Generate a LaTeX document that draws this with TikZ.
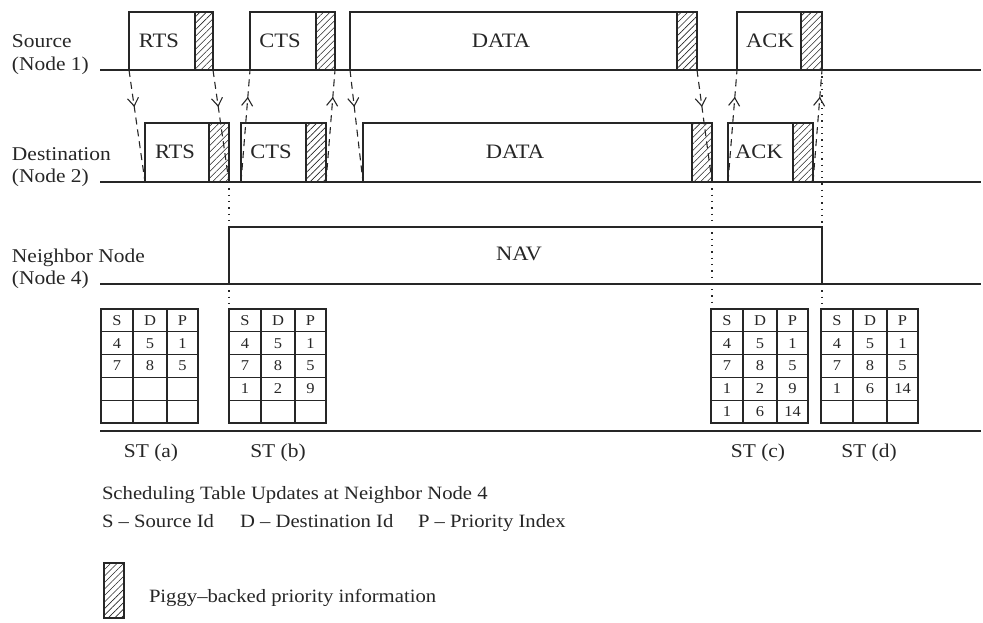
\documentclass[tikz,border=0pt]{standalone}
\usepackage{fontspec}
\setmainfont{Liberation Serif}[FakeStretch=1.1]
\usetikzlibrary{patterns.meta,arrows.meta,decorations.markings}
\definecolor{ink}{HTML}{262626}
\tikzset{
  wire/.style={draw=ink, line width=1.3pt},
  grid/.style={draw=ink, line width=1.2pt},
  frame/.style={draw=ink, line width=1.3pt, inner sep=0pt, outer sep=0pt, anchor=south west},
  hatch/.style={frame, pattern={Lines[angle=45,distance=4.6pt,line width=0.6pt]}, pattern color=ink},
  txt/.style={font=\fontsize{19.5}{23}\selectfont, text=ink, inner sep=0pt, outer sep=0pt},
  captxt/.style={font=\fontsize{18.8}{23}\selectfont, text=ink, inner sep=0pt, outer sep=0pt},
  boxtxt/.style={font=\fontsize{20.5}{24}\selectfont, text=ink, inner sep=0pt, outer sep=0pt},
  cell/.style={font=\fontsize{15}{17}\selectfont, text=ink, inner sep=0pt},
  sig/.style={draw=ink, line width=1.1pt, dash pattern=on 7pt off 5pt},
  sigdown/.style={sig, postaction={decorate}, decoration={markings, mark=at position 0.33 with {\arrow{Straight Barb[length=8pt,width=11pt,line width=1.1pt]}}}},
  sigup/.style={sig, postaction={decorate}, decoration={markings, mark=at position 0.76 with {\arrow{Straight Barb[length=8pt,width=11pt,line width=1.1pt]}}}},
  dots/.style={draw=ink, line width=1.3pt, dash pattern=on 1.3pt off 5pt},
}
\newcommand\sttable[3]{%
  \draw[grid] (#2,309) rectangle (#2+97,423);
  \draw[grid] (#2+32,309) -- (#2+32,423);
  \draw[grid] (#2+66,309) -- (#2+66,423);
  \foreach \r in {1,2,3,4} \draw[grid] (#2,{309+22.8*\r}) -- (#2+97,{309+22.8*\r});
  \foreach \v [count=\k from 0] in {#3} {%
    \pgfmathtruncatemacro\row{\k/3}%
    \pgfmathtruncatemacro\col{mod(\k,3)}%
    \pgfmathsetmacro\cx{{16,49,81.5}[\col]}%
    \pgfmathsetmacro\cy{309+22.8*(\row+0.5)}%
    \node[cell] (#1-\row-\col) at (#2+\cx,\cy) {\v};
  }%
}
\begin{document}
\begin{tikzpicture}[x=1pt,y=-1pt]
\useasboundingbox (0,0) rectangle (983,622);

% time lines
\coordinate (sl0) at (100,70);  \coordinate (sl1) at (981,70);
\coordinate (dl0) at (100,182); \coordinate (dl1) at (981,182);
\coordinate (nl0) at (100,284); \coordinate (nl1) at (981,284);
\coordinate (tl0) at (100,431); \coordinate (tl1) at (981,431);
\draw[wire] (sl0) -- (sl1);
\draw[wire] (dl0) -- (dl1);
\draw[wire] (nl0) -- (nl1);
\draw[wire] (tl0) -- (tl1);

% row labels
\node[txt, anchor=base west] (lsrc1) at (12,47) {Source};
\node[txt, anchor=base west] (lsrc2) at (12,70) {(Node 1)};
\node[txt, anchor=base west] (ldst1) at (12,160) {Destination};
\node[txt, anchor=base west] (ldst2) at (12,182) {(Node 2)};
\node[txt, anchor=base west] (lnb1) at (12,262) {Neighbor Node};
\node[txt, anchor=base west] (lnb2) at (12,284) {(Node 4)};

% source frames
\node[frame, minimum width=84pt, minimum height=58pt] (srts) at (129,70) {};
\node[hatch, minimum width=18pt, minimum height=58pt] (srtsh) at (195,70) {};
\node[frame, minimum width=85pt, minimum height=58pt] (scts) at (250,70) {};
\node[hatch, minimum width=19pt, minimum height=58pt] (sctsh) at (316,70) {};
\node[frame, minimum width=347pt, minimum height=58pt] (sdata) at (350,70) {};
\node[hatch, minimum width=20pt, minimum height=58pt] (sdatah) at (677,70) {};
\node[frame, minimum width=85pt, minimum height=58pt] (sack) at (737,70) {};
\node[hatch, minimum width=21pt, minimum height=58pt] (sackh) at (801,70) {};
\node[boxtxt] (tsrts) at (159,41) {RTS};
\node[boxtxt] (tscts) at (280,41) {CTS};
\node[boxtxt] (tsdata) at (501,41) {DATA};
\node[boxtxt] (tsack) at (770,41) {ACK};

% destination frames
\node[frame, minimum width=84pt, minimum height=59pt] (drts) at (145,182) {};
\node[hatch, minimum width=20pt, minimum height=59pt] (drtsh) at (209,182) {};
\node[frame, minimum width=85pt, minimum height=59pt] (dcts) at (241,182) {};
\node[hatch, minimum width=20pt, minimum height=59pt] (dctsh) at (306,182) {};
\node[frame, minimum width=349pt, minimum height=59pt] (ddata) at (363,182) {};
\node[hatch, minimum width=20pt, minimum height=59pt] (ddatah) at (692,182) {};
\node[frame, minimum width=85pt, minimum height=59pt] (dack) at (728,182) {};
\node[hatch, minimum width=20pt, minimum height=59pt] (dackh) at (793,182) {};
\node[boxtxt] (tdrts) at (175,152) {RTS};
\node[boxtxt] (tdcts) at (271,152) {CTS};
\node[boxtxt] (tddata) at (515,152) {DATA};
\node[boxtxt] (tdack) at (759,152) {ACK};

% NAV
\node[frame, minimum width=593pt, minimum height=57pt] (nav) at (229,284) {};
\node[boxtxt] (tnav) at (519,254) {NAV};

% signals
\draw[sigdown] (srts.south west) -- (drts.south west);
\draw[sigdown] (srts.south east) -- (drts.south east);
\draw[sigup] (dcts.south west) -- (scts.south west);
\draw[sigup] (dcts.south east) -- (scts.south east);
\draw[sigdown] (sdata.south west) -- (ddata.south west);
\draw[sigdown] (sdata.south east) -- (ddata.south east);
\draw[sigup] (dack.south west) -- (sack.south west);
\draw[sigup] (dack.south east) -- (sack.south east);

% tables
\sttable{ta}{101}{S,D,P,4,5,1,7,8,5}
\sttable{tb}{229}{S,D,P,4,5,1,7,8,5,1,2,9}
\sttable{tc}{711}{S,D,P,4,5,1,7,8,5,1,2,9,1,6,14}
\sttable{td}{821}{S,D,P,4,5,1,7,8,5,1,6,14}
\coordinate (tbtop) at (229,309);
\coordinate (tctop) at (711,309);
\coordinate (tdtop) at (821,309);

% dotted guides
\draw[dots] (drts.south east) -- (nav.north west);
\draw[dots] (nav.south west) -- (tbtop);
\draw[dots] (ddata.south east) -- (ddata.south east |- tctop);
\draw[dots] (sack.south east) -- (nav.north east);
\draw[dots] (nav.south east) -- (nav.south east |- tdtop);

% table captions
\node[txt, anchor=base] (sta) at (151,457) {ST (a)};
\node[txt, anchor=base] (stb) at (278,457) {ST (b)};
\node[txt, anchor=base] (stc) at (758,457) {ST (c)};
\node[txt, anchor=base] (std) at (869,457) {ST (d)};

% legend
\node[captxt, anchor=base west] (cap1) at (102,499) {Scheduling Table Updates at Neighbor Node 4};
\node[captxt, anchor=base west] (cap2) at (102,527) {S – Source Id};
\node[captxt, anchor=base west] (cap3) at (240,527) {D – Destination Id};
\node[captxt, anchor=base west] (cap4) at (418,527) {P – Priority Index};
\node[hatch, minimum width=20pt, minimum height=55pt] (leg) at (104,618) {};
\node[captxt, anchor=base west] (legt) at (149,602) {Piggy–backed priority information};
\end{tikzpicture}
\end{document}
